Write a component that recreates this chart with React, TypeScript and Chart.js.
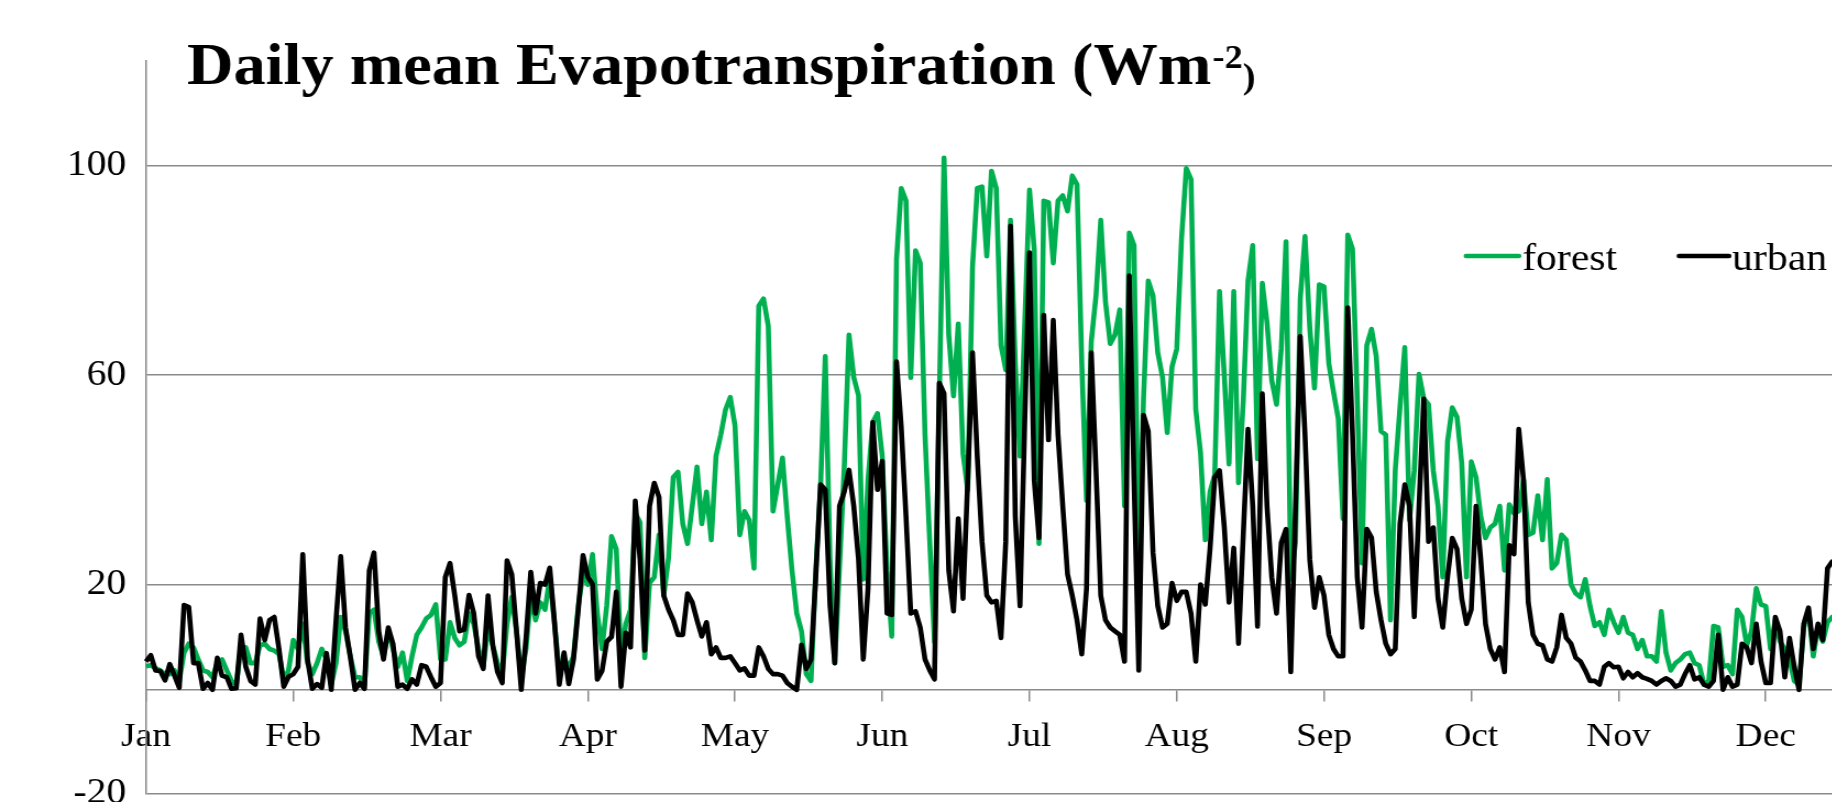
import React, { useEffect, useRef } from 'react';
import { Chart, registerables } from 'chart.js';

Chart.register(...registerables);

// ---------- data ----------
const MONTHS = ['Jan', 'Feb', 'Mar', 'Apr', 'May', 'Jun', 'Jul', 'Aug', 'Sep', 'Oct', 'Nov', 'Dec'];
const DAYS_PER_LABEL = 31;
const N_DAYS = 365;
const Y_TICKS = [-20, 20, 60, 100];
const TITLE_MAIN = 'Daily mean Evapotranspiration (Wm';
const TITLE_SUP = '-2';
const TITLE_END = ')';
const SERIES_NAMES = ['forest', 'urban'];

const forest = [
  4.4, 4.6, 4.0, 3.6, 2.9, 2.9, 3.6, 1.6, 7.0, 8.7, 8.0, 5.7, 3.6, 3.3, 2.3, 5.0, 5.7, 3.6, 1.6, 0.9,
  8.0, 8.0, 5.0, 5.0, 8.4, 8.7, 7.7, 7.4, 6.7, 1.9, 3.6, 9.4, 7.7, 12.5, 5.0, 2.9, 5.0, 7.7, 5.7, 0.9,
  5.0, 13.8, 11.1, 6.3, 2.3, 2.3, 0.9, 14.5, 15.2, 9.1, 6.3, 11.1, 7.7, 4.3, 7.0, 1.6, 6.3, 10.4, 11.8, 13.5,
  14.2, 16.2, 5.7, 5.7, 12.8, 9.8, 8.4, 9.1, 14.5, 12.5, 7.7, 4.3, 11.8, 8.4, 5.0, 2.9, 12.5, 17.6, 11.1, 2.3,
  7.7, 17.9, 13.2, 16.6, 15.2, 21.4, 12.5, 3.6, 5.7, 4.3, 6.3, 15.9, 22.0, 20.0, 25.8, 14.5, 7.7, 16.0, 29.2, 26.8,
  6.3, 12.5, 15.2, 33.6, 31.9, 6.0, 20.3, 21.4, 29.5, 17.9, 25.1, 40.5, 41.5, 31.6, 27.8, 35.0, 42.5, 31.6, 37.7, 28.5,
  44.5, 48.6, 53.4, 55.8, 50.3, 29.5, 34.0, 32.3, 23.1, 73.2, 74.6, 69.4, 34.0, 39.1, 44.2, 32.9, 22.7, 14.5, 11.1, 2.9,
  1.6, 22.7, 38.4, 63.6, 24.8, 5.0, 23.4, 42.5, 67.7, 59.6, 56.1, 21.0, 40.0, 51.0, 52.7, 44.5, 22.7, 10.1, 82.1, 95.7,
  93.3, 59.5, 83.8, 81.4, 48.6, 28.0, 9.0, 55.0, 101.5, 67.7, 56.0, 69.8, 45.0, 38.0, 80.7, 95.7, 96.0, 82.7, 99.0, 95.7,
  65.7, 61.0, 89.6, 62.3, 44.5, 70.0, 95.4, 84.0, 27.8, 93.3, 93.0, 81.4, 93.3, 94.3, 91.3, 98.1, 96.4, 62.3, 36.0, 66.4,
  75.2, 89.6, 73.9, 66.0, 67.7, 72.5, 35.0, 87.2, 84.8, 21.4, 55.5, 78.0, 75.2, 64.3, 59.6, 49.0, 61.6, 65.0, 86.0, 99.5,
  97.4, 53.4, 45.2, 28.5, 37.7, 41.0, 76.0, 60.0, 43.0, 76.0, 39.4, 55.0, 78.0, 84.8, 44.0, 77.6, 70.0, 59.0, 54.4, 65.0,
  85.5, 21.0, 28.0, 74.6, 86.5, 69.1, 57.5, 77.3, 76.9, 62.3, 56.8, 51.7, 32.6, 86.8, 84.1, 55.5, 24.1, 65.7, 68.8, 63.6,
  49.3, 48.6, 13.2, 41.8, 54.0, 65.3, 32.3, 41.8, 60.2, 55.5, 54.4, 41.8, 35.0, 21.4, 47.3, 53.8, 52.0, 43.2, 21.4, 43.5,
  40.5, 33.0, 28.9, 30.9, 31.6, 35.0, 22.7, 35.3, 33.6, 34.0, 40.0, 29.5, 29.9, 37.0, 28.5, 40.1, 23.1, 24.1, 29.5, 28.5,
  20.0, 18.3, 17.6, 21.0, 15.9, 12.1, 12.8, 10.4, 15.2, 12.8, 10.8, 13.8, 10.8, 10.4, 7.7, 9.4, 6.3, 6.3, 5.3, 14.9,
  7.0, 3.6, 5.0, 5.7, 6.7, 7.0, 5.0, 4.6, 0.9, 1.6, 12.1, 11.8, 4.3, 4.6, 2.9, 15.2, 13.8, 8.4, 11.1, 19.3,
  16.2, 15.9, 7.7, 13.2, 9.1, 7.7, 5.7, 1.6, 0.9, 11.8, 15.2, 6.3, 11.8, 9.1, 12.8, 13.8, 13.2,
];

const urban = [
  5.3, 6.5, 3.6, 3.5, 1.7, 4.8, 2.6, 0.3, 16.1, 15.7, 5.0, 5.0, 0.1, 1.2, -0.1, 6.0, 2.6, 2.3, 0.1, 0.2,
  10.4, 4.3, 1.6, 0.9, 13.5, 9.4, 13.2, 13.8, 7.7, 0.5, 2.4, 2.9, 4.3, 25.8, 5.7, 0.1, 1.0, 0.3, 6.9, -0.1,
  13.2, 25.4, 11.8, 6.3, -0.1, 1.2, 0.1, 22.7, 26.1, 11.1, 5.7, 11.8, 8.7, 0.5, 0.9, 0.1, 1.9, 0.9, 4.6, 4.3,
  2.3, 0.5, 1.2, 21.4, 24.1, 17.9, 11.1, 11.4, 18.0, 14.5, 6.3, 3.9, 17.9, 8.4, 3.3, 1.2, 24.6, 22.0, 11.1, -0.1,
  9.8, 22.4, 14.5, 20.3, 20.0, 23.2, 12.8, 0.9, 7.0, 1.0, 5.7, 15.2, 25.6, 21.5, 20.1, 1.9, 3.5, 9.1, 10.0, 18.6,
  0.5, 10.8, 8.0, 36.0, 24.8, 7.4, 35.0, 39.4, 36.7, 17.9, 15.2, 13.2, 10.4, 10.4, 18.3, 16.6, 13.2, 10.1, 12.8, 6.7,
  8.0, 6.0, 6.0, 6.3, 5.0, 3.6, 4.0, 2.6, 2.6, 8.0, 6.3, 3.9, 2.9, 2.9, 2.6, 1.2, 0.5, -0.1, 8.5, 3.9,
  5.7, 21.4, 39.1, 38.1, 16.0, 5.0, 35.0, 37.7, 41.9, 35.0, 24.8, 5.7, 19.3, 51.0, 38.1, 43.6, 14.5, 14.2, 62.6, 50.0,
  33.0, 14.5, 14.9, 11.8, 5.7, 3.6, 1.9, 58.5, 56.5, 22.7, 14.9, 32.6, 17.3, 40.0, 64.3, 44.5, 28.2, 17.9, 16.6, 16.9,
  9.8, 28.2, 88.5, 33.0, 15.9, 51.4, 83.4, 39.8, 28.9, 71.5, 47.6, 70.5, 48.6, 35.0, 22.0, 17.9, 13.2, 6.7, 19.3, 64.3,
  41.8, 17.9, 13.2, 11.8, 11.1, 10.4, 5.3, 79.0, 40.0, 3.6, 52.4, 49.3, 26.1, 15.9, 11.8, 12.5, 20.3, 16.9, 18.6, 18.6,
  14.5, 5.3, 20.0, 16.2, 26.8, 40.5, 41.8, 31.0, 16.6, 27.0, 8.7, 29.5, 49.7, 35.0, 12.0, 56.5, 35.0, 21.4, 14.5, 28.0,
  30.6, 3.3, 35.0, 67.4, 48.6, 24.8, 15.6, 21.4, 17.9, 10.4, 7.7, 6.3, 6.3, 72.9, 48.6, 21.4, 11.8, 30.6, 29.0, 18.6,
  13.2, 8.7, 6.7, 7.7, 31.6, 39.1, 35.0, 13.8, 35.0, 55.5, 28.2, 30.9, 17.3, 11.8, 21.4, 28.9, 26.8, 17.3, 12.5, 15.2,
  35.0, 24.8, 12.5, 7.7, 5.7, 8.0, 3.3, 27.5, 25.8, 49.7, 40.0, 16.6, 10.4, 8.7, 8.4, 5.7, 5.3, 8.0, 14.2, 9.8,
  8.7, 6.0, 5.3, 3.6, 1.6, 1.6, 0.9, 4.3, 5.0, 4.2, 4.3, 2.1, 3.3, 2.3, 3.1, 2.3, 2.0, 1.6, 0.9, 1.6,
  2.1, 1.6, 0.5, 0.9, 2.9, 4.6, 1.9, 2.3, 0.9, 0.5, 1.6, 10.4, -0.1, 2.3, 0.5, 0.9, 8.7, 8.0, 5.0, 12.5,
  5.3, 1.2, 1.2, 13.8, 11.1, 2.3, 9.8, 4.3, -0.1, 12.5, 15.6, 7.7, 12.5, 9.4, 23.1, 24.4, 24.1,
];

const DAY_LABELS = Array.from({ length: N_DAYS }, (_, i) => `day ${i + 1}`);

// ---------- layout / style constants ----------
const FONT = '"Liberation Serif", "Times New Roman", serif';
const S = 1.1; // horizontal stretch of the original picture
const PAGE_W = 1832;
const PAGE_H = 802;
const LEFT = 146; // y axis position on screen
const TOP = 61; // value 120
const BOTTOM = 794; // value -20
const PX_PER_DAY = 4.75;
const PLOT_RIGHT = LEFT + (N_DAYS - 1) * PX_PER_DAY;
const CW = Math.ceil(PLOT_RIGHT / S) + 6;
const GRID = '#8a8a8a';
const GREEN = '#00B050';
const BLACK = '#000000';

const overlayPlugin = {
  id: 'overlay',
  afterDraw(chart: any) {
    const ctx = chart.ctx;
    ctx.save();
    ctx.fillStyle = '#000';
    ctx.textBaseline = 'alphabetic';
    ctx.textAlign = 'left';
    // title
    const tx = 187 / S;
    ctx.font = `bold 58.5px ${FONT}`;
    ctx.fillText(TITLE_MAIN, tx, 84);
    const w1 = ctx.measureText(TITLE_MAIN).width;
    ctx.font = `bold 33px ${FONT}`;
    ctx.fillText(TITLE_SUP, tx + w1 + 1, 68);
    const w2 = ctx.measureText(TITLE_SUP).width;
    ctx.font = `bold 35px ${FONT}`;
    ctx.fillText(TITLE_END, tx + w1 + w2 + 1, 88);
    // legend
    const items = [
      { name: SERIES_NAMES[0], color: GREEN, x0: 1466, x1: 1519, tx: 1522 },
      { name: SERIES_NAMES[1], color: BLACK, x0: 1679, x1: 1729, tx: 1732 },
    ];
    ctx.font = `38px ${FONT}`;
    for (const it of items) {
      ctx.strokeStyle = it.color;
      ctx.lineWidth = 4.5;
      ctx.lineCap = 'round';
      ctx.beginPath();
      ctx.moveTo(it.x0 / S, 256);
      ctx.lineTo(it.x1 / S, 256);
      ctx.stroke();
      ctx.fillText(it.name, it.tx / S, 270);
    }
    ctx.restore();
  },
};

export default function App() {
  const ref = useRef<HTMLCanvasElement | null>(null);

  useEffect(() => {
    if (!ref.current) return;
    const chart = new Chart(ref.current, {
      type: 'line',
      data: {
        labels: DAY_LABELS,
        datasets: [
          {
            label: SERIES_NAMES[0],
            data: forest,
            borderColor: GREEN,
            backgroundColor: GREEN,
            borderWidth: 4.6,
            pointRadius: 0,
            tension: 0,
            borderJoinStyle: 'round',
            order: 1,
          },
          {
            label: SERIES_NAMES[1],
            data: urban,
            borderColor: BLACK,
            backgroundColor: BLACK,
            borderWidth: 4.6,
            pointRadius: 0,
            tension: 0,
            borderJoinStyle: 'round',
            order: 0,
          },
        ],
      },
      options: {
        responsive: false,
        animation: false,
        devicePixelRatio: 1,
        layout: {
          padding: { top: TOP, bottom: PAGE_H - BOTTOM, left: 0, right: CW - PLOT_RIGHT / S },
        },
        plugins: {
          legend: { display: false },
          title: { display: false },
          tooltip: { enabled: false },
        },
        scales: {
          x: {
            type: 'category',
            position: { y: 0 } as any,
            afterFit: (s: any) => {
              s.height = 0;
              s.paddingLeft = 0;
              s.paddingRight = 0;
              s.paddingTop = 0;
              s.paddingBottom = 0;
            },
            grid: {
              drawOnChartArea: false,
              drawTicks: true,
              tickLength: 11,
              color: GRID,
              lineWidth: 1.5,
            },
            border: { display: true, color: GRID, width: 1.5 },
            ticks: {
              autoSkip: false,
              maxRotation: 0,
              minRotation: 0,
              padding: 16,
              color: '#000',
              font: { family: FONT, size: 34 },
              callback: (_v: any, i: number) =>
                i % DAYS_PER_LABEL === 0 ? MONTHS[i / DAYS_PER_LABEL] : null,
            },
          },
          y: {
            min: -20,
            max: 120,
            afterBuildTicks: (s: any) => {
              s.ticks = Y_TICKS.map((v) => ({ value: v }));
            },
            afterFit: (s: any) => {
              s.width = LEFT / S;
              s.paddingTop = 0;
              s.paddingBottom = 0;
              s.paddingLeft = 0;
              s.paddingRight = 0;
            },
            grid: { color: GRID, lineWidth: 1.5, drawTicks: false },
            border: { display: true, color: GRID, width: 1.5 },
            ticks: {
              color: '#000',
              padding: 18,
              font: { family: FONT, size: 36 },
            },
          },
        },
      },
      plugins: [overlayPlugin],
    });
    return () => chart.destroy();
  }, []);

  return (
    <div
      style={{
        position: 'absolute',
        left: 0,
        top: 0,
        width: PAGE_W,
        height: PAGE_H,
        overflow: 'hidden',
        background: '#fff',
      }}
    >
      <div style={{ transform: `scaleX(${S})`, transformOrigin: '0 0', width: CW, height: PAGE_H }}>
        <canvas
          ref={ref}
          width={CW}
          height={PAGE_H}
          style={{ display: 'block', width: CW, height: PAGE_H }}
        />
      </div>
    </div>
  );
}
